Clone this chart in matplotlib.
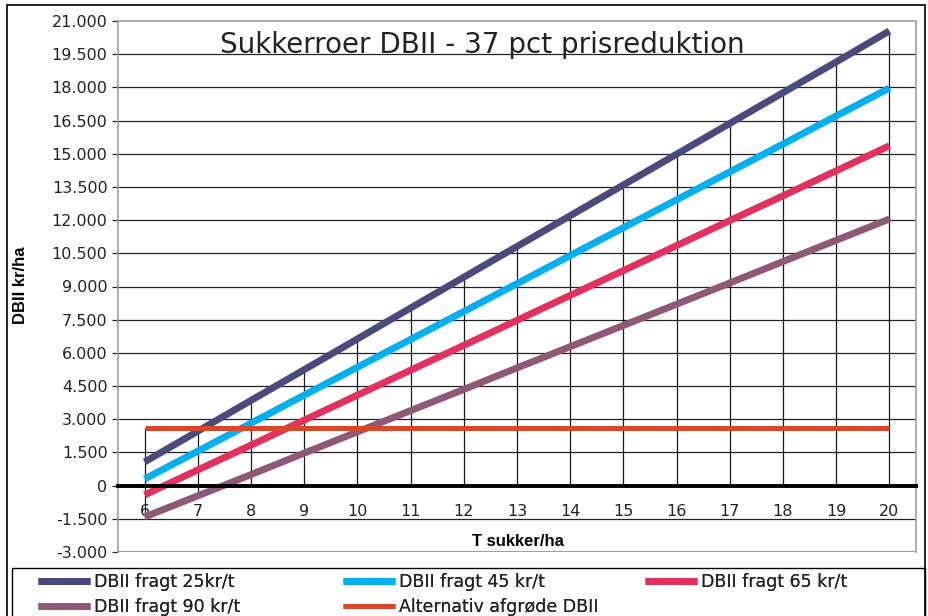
import matplotlib
matplotlib.use("Agg")
import matplotlib.pyplot as plt
from matplotlib.patches import Rectangle
from matplotlib.ticker import FuncFormatter

# T sukker/ha
tons = [6, 7, 8, 9, 10, 11, 12, 13, 14, 15, 16, 17, 18, 19, 20]

# DBII kr/ha
fragt_25 = [1070, 2460, 3850, 5240, 6630, 8030, 9420, 10810, 12200, 13590, 14980, 16370, 17760, 19150, 20550]
fragt_45 = [300, 1560, 2820, 4090, 5350, 6610, 7870, 9130, 10400, 11660, 12920, 14180, 15440, 16710, 17970]
fragt_65 = [-420, 710, 1830, 2960, 4090, 5220, 6340, 7470, 8600, 9720, 10850, 11980, 13100, 14230, 15360]
fragt_90 = [-1420, -460, 500, 1470, 2430, 3390, 4350, 5320, 6280, 7240, 8200, 9160, 10130, 11090, 12050]
alternativ = [2600] * len(tons)

labels = ["DBII fragt 25kr/t", "DBII fragt 45 kr/t", "DBII fragt 65 kr/t",
          "DBII fragt 90 kr/t", "Alternativ afgrøde DBII"]
colors = ["#4b4a7c", "#00b0f0", "#e3305f", "#8e5877", "#d9472b"]
series = [fragt_25, fragt_45, fragt_65, fragt_90, alternativ]

W, H = 929, 616
fig = plt.figure(figsize=(W / 100, H / 100), dpi=100)
ax = fig.add_axes([118 / W, 1 - 552 / H, (916 - 118) / W, (552 - 21) / H])

# horizontal grid
for v in range(-1500, 21000, 1500):
    if v != 0:
        ax.axhline(v, color="#222222", lw=0.9, zorder=1)

# drop lines to the category axis
lows = [min(0, *vals) for vals in zip(*series)]
highs = [max(0, *vals) for vals in zip(*series)]
ax.vlines(tons, lows, highs, color="#1a1a1a", lw=0.9, zorder=2)

handles = []
for vals, lab, c in zip(series, labels, colors):
    lw = 3.6 if vals is alternativ else 5
    h, = ax.plot(tons, vals, color=c, lw=lw, solid_capstyle="butt", label=lab, zorder=3)
    handles.append(h)

ax.set_xlim(5.5, 20.5)
ax.set_ylim(-3000, 21000)
ax.set_yticks(range(-3000, 21001, 1500))
ax.yaxis.set_major_formatter(FuncFormatter(lambda v, p: f"{int(v):,}".replace(",", ".")))
ax.tick_params(axis="y", length=4, width=0.9, labelsize=11.5, colors="#222222")

ax.set_xticks(tons)
ax.spines["bottom"].set_position(("data", 0))
ax.spines["bottom"].set_linewidth(2.8)
ax.spines["bottom"].set_color("black")
ax.spines["bottom"].set_zorder(4)
ax.tick_params(axis="x", length=0, pad=13, labelsize=11.5, colors="#222222")
for s in ["left", "top", "right"]:
    ax.spines[s].set_color("#a0a0a0")
    ax.spines[s].set_linewidth(1.2)
ax.axhline(-3000, color="#a0a0a0", lw=1.5, zorder=1)

fig.text(482 / W, 1 - 45 / H, "Sukkerroer DBII - 37 pct prisreduktion",
         ha="center", va="center", fontsize=20, color="#222222")
fig.text(518 / W, 1 - 542 / H, "T sukker/ha", ha="center", va="center",
         fontsize=12, fontweight="bold", family="Liberation Sans")
fig.text(21 / W, 1 - 285 / H, "DBII kr/ha", ha="center", va="center", rotation=90,
         fontsize=12, fontweight="bold", family="Liberation Sans")

# legend: three columns placed at the reference positions
columns = [([0, 3], 38), ([1, 4], 343), ([2], 645)]
for idx, x0 in columns:
    leg = fig.legend([handles[i] for i in idx], [labels[i] for i in idx],
                     loc="upper left", bbox_to_anchor=(x0 / W, 1 - 573 / H),
                     fontsize=12.5, frameon=False, borderaxespad=0, borderpad=0,
                     handlelength=3.0, handletextpad=0.25, labelspacing=0.4)
    for t in leg.get_texts():
        t.set_color("#222222")
    fig.add_artist(leg)

fig.add_artist(Rectangle((12 / W, -0.02), (925 - 12) / W, (616 - 568) / H + 0.02,
                         transform=fig.transFigure, fill=False, ec="black", lw=1))
fig.add_artist(Rectangle((7 / W, -0.02), (925 - 7) / W, (611 / H) + 0.02,
                         transform=fig.transFigure, fill=False, ec="black", lw=1.2))

fig.savefig("out.png", dpi=100)
